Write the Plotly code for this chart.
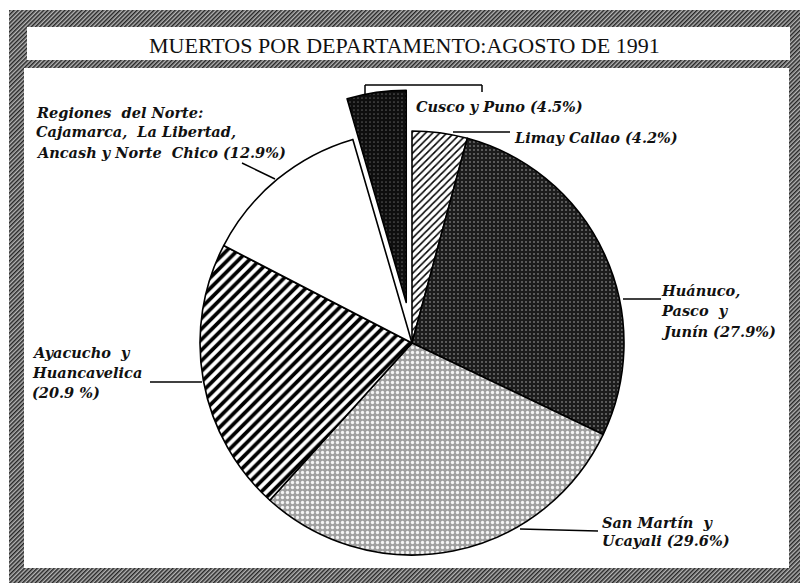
import base64
import math
import plotly.graph_objects as go

W, H = 800, 583

# ---------------- data ----------------
categories = ["Limay Callao", "Huánuco, Pasco y Junín", "San Martín y Ucayali",
              "Ayacucho y Huancavelica", "Regiones del Norte", "Cusco y Puno"]
percents = [4.2, 27.9, 29.6, 20.9, 12.9, 4.5]
label_lines = [
    ["Limay Callao (4.2%)"],
    ["Huánuco,", "Pasco  y", "Junín (27.9%)"],
    ["San Martín  y", "Ucayali (29.6%)"],
    ["Ayacucho  y", "Huancavelica", "(20.9 %)"],
    ["Regiones  del Norte:", "Cajamarca,  La Libertad,", "Ancash y Norte  Chico (12.9%)"],
    ["Cusco y Puno (4.5%)"],
]
title_text = "MUERTOS POR DEPARTAMENTO:AGOSTO DE 1991"
exploded = "Cusco y Puno"

# ---------------- styles ----------------
base_colors = ["#ffffff", "#202020", "#a9a9a9", "#ffffff", "#ffffff", "#111111"]
pat_shapes = ["/", ".", ".", "/", "", "."]
pat_fg = ["#000000", "#6e6e6e", "#f4f4f4", "#000000", "#000000", "#555555"]
pat_bg = ["#ffffff", "#1c1c1c", "#a0a0a0", "#ffffff", "#ffffff", "#0e0e0e"]
pat_size = [5, 4, 5, 7.5, 8, 4]
pat_sol = [0.3, 0.2, 0.35, 0.5, 0.3, 0.15]

# geometry (pixels)
CX, CY, R = 412, 343, 212
PULL_PX = 41


def px(x):
    return x / W


def py(y):
    return 1 - y / H


def domain_for(cx, cy, r):
    return dict(x=[px(cx - 1.2 * r), px(cx + 1.2 * r)], y=[py(cy + r), py(cy - r)])


ex_idx = categories.index(exploded)
transparent = "rgba(0,0,0,0)"

main_colors = [transparent if i == ex_idx else c for i, c in enumerate(base_colors)]
main_shapes = ["" if i == ex_idx else s for i, s in enumerate(pat_shapes)]
main_fg = [transparent if i == ex_idx else c for i, c in enumerate(pat_fg)]
main_bg = [transparent if i == ex_idx else c for i, c in enumerate(pat_bg)]
main_lw = [0 if i == ex_idx else 1.6 for i in range(len(categories))]

ex_colors = [c if i == ex_idx else transparent for i, c in enumerate(base_colors)]
ex_shapes = [s if i == ex_idx else "" for i, s in enumerate(pat_shapes)]
ex_fg = [c if i == ex_idx else transparent for i, c in enumerate(pat_fg)]
ex_bg = [c if i == ex_idx else transparent for i, c in enumerate(pat_bg)]
ex_lw = [1.6 if i == ex_idx else 0 for i in range(len(categories))]

# direction of the exploded slice (clockwise from 12 o'clock)
total = sum(percents)
start = sum(percents[:ex_idx]) / total
mid_ang = 2 * math.pi * (start + percents[ex_idx] / total / 2)
ex_cx = CX + PULL_PX * math.sin(mid_ang)
ex_cy = CY - PULL_PX * math.cos(mid_ang)

common = dict(labels=categories, values=percents, sort=False, direction="clockwise",
              rotation=0, textinfo="none", showlegend=False, hoverinfo="label+percent")

pie_main = go.Pie(
    **common,
    domain=domain_for(CX, CY, R),
    marker=dict(colors=main_colors,
                line=dict(color="#000000", width=main_lw),
                pattern=dict(shape=main_shapes, fgcolor=main_fg, bgcolor=main_bg,
                             size=pat_size, solidity=pat_sol)),
)
pie_ex = go.Pie(
    **common,
    domain=domain_for(ex_cx, ex_cy, R),
    marker=dict(colors=ex_colors,
                line=dict(color="#000000", width=ex_lw),
                pattern=dict(shape=ex_shapes, fgcolor=ex_fg, bgcolor=ex_bg,
                             size=pat_size, solidity=pat_sol)),
)

fig = go.Figure([pie_main, pie_ex])

# hatched grey frame texture
fx0, fy0 = 9, 10
tw, th = W - fx0, H - fy0
svg = f'''<svg xmlns="http://www.w3.org/2000/svg" width="{tw}" height="{th}" viewBox="0 0 {tw} {th}">
<defs><pattern id="p" width="3" height="3" patternUnits="userSpaceOnUse" patternTransform="rotate(45)">
<rect width="3" height="3" fill="#b4b4b4"/><rect width="1.5" height="3" fill="#262626"/></pattern></defs>
<rect width="{tw}" height="{th}" fill="url(#p)"/></svg>'''
src = "data:image/svg+xml;base64," + base64.b64encode(svg.encode()).decode()
fig.add_layout_image(dict(source=src, xref="paper", yref="paper", x=px(fx0), y=py(fy0),
                          sizex=px(W) - px(fx0), sizey=py(fy0) - py(H), xanchor="left",
                          yanchor="top", sizing="stretch", layer="below"))

shapes = [
    dict(type="rect", xref="paper", yref="paper", x0=0, x1=1, y0=py(fy0), y1=1,
         fillcolor="white", line=dict(width=0), layer="below"),
    dict(type="rect", xref="paper", yref="paper", x0=0, x1=px(fx0), y0=0, y1=1,
         fillcolor="white", line=dict(width=0), layer="below"),
    # title box and inner panel
    dict(type="rect", xref="paper", yref="paper", x0=px(27), x1=px(790), y0=py(60), y1=py(27),
         fillcolor="white", line=dict(width=0), layer="below"),
    dict(type="rect", xref="paper", yref="paper", x0=px(24), x1=px(789), y0=py(568), y1=py(68),
         fillcolor="white", line=dict(width=0), layer="below"),
]
leaders = [
    (453, 132, 510, 132),   # Limay
    (623, 299, 661, 299),   # Huanuco
    (520, 529, 598, 531),   # San Martin
    (150, 382, 202, 382),   # Ayacucho
    (242, 163, 275, 179),   # Norte
    (365, 95, 365, 85),     # Cusco bracket
    (365, 85, 482, 85),
    (482, 85, 482, 92),
]
for x0, y0, x1, y1 in leaders:
    shapes.append(dict(type="line", xref="paper", yref="paper", x0=px(x0), y0=py(y0),
                       x1=px(x1), y1=py(y1), line=dict(color="#000000", width=1.5)))

label_font = dict(family="DejaVu Serif", size=14.5, color="#111111", style="italic",
                  weight="bold")
# (left x, y of first line, line spacing)
label_pos = [(512, 137, 20), (659, 290, 20.5), (600, 522, 18.5), (30, 352, 20), (34, 112, 20),
             (414, 106, 20)]
annotations = [
    dict(text=title_text, xref="paper", yref="paper", x=px(404), y=py(45), showarrow=False,
         xanchor="center", yanchor="middle",
         font=dict(family="Liberation Serif", size=22, color="#111111")),
]
for lines, (x, y, dy) in zip(label_lines, label_pos):
    for k, t in enumerate(lines):
        annotations.append(dict(text=t, xref="paper", yref="paper", x=px(x), y=py(y + k * dy),
                                showarrow=False, xanchor="left", yanchor="middle",
                                align="left", font=label_font))

fig.update_layout(
    width=W, height=H, margin=dict(l=0, r=0, t=0, b=0),
    paper_bgcolor="#7a7a7a", plot_bgcolor="white",
    shapes=shapes,
    annotations=annotations,
)

fig.write_html("out.html", config={"displayModeBar": False},
               post_script="document.body.style.margin='0';")
